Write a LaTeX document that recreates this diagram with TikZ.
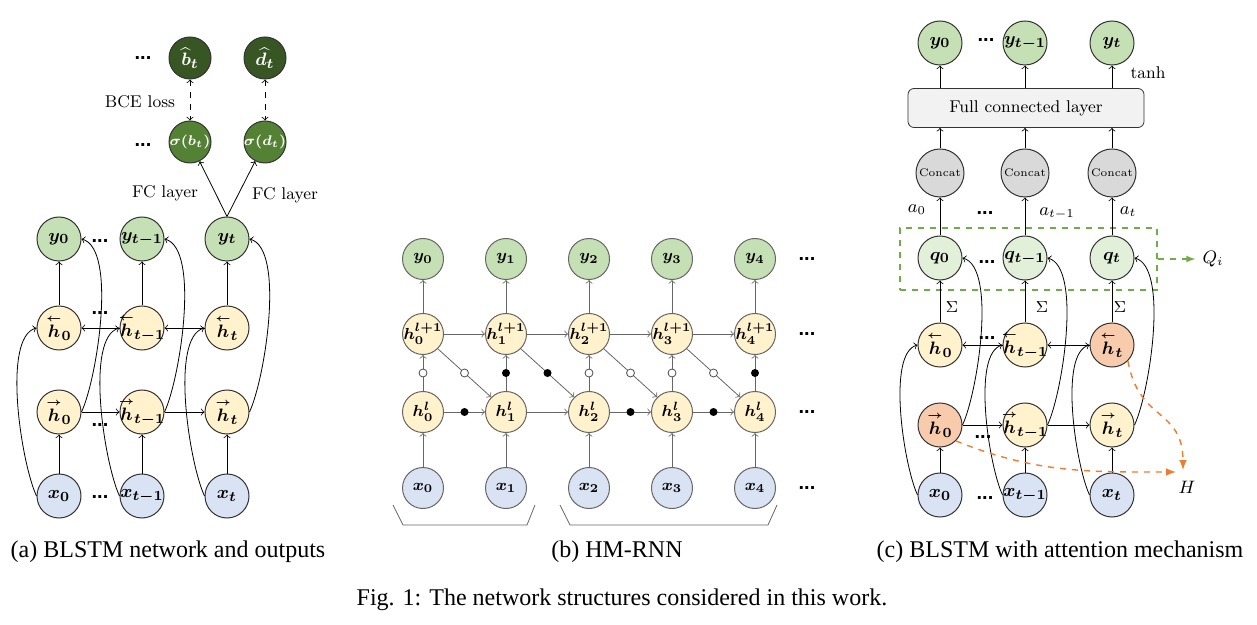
\documentclass[tikz,border=0pt]{standalone}
\usepackage{amsmath, amssymb}
\usepackage{fontspec}
\newfontfamily\capfont{Liberation Serif}
\newfontfamily\dotfont{Liberation Sans}
\usepackage{tikz}
\usetikzlibrary{positioning}
\usetikzlibrary{arrows}
\usetikzlibrary{calc}

\newcommand{\hfw}{\overset{\scriptscriptstyle\rightarrow}{h}}
\newcommand{\hbw}{\overset{\scriptscriptstyle\leftarrow}{h}}

\definecolor{inblue}{HTML}{DAE3F3}
\definecolor{hidyel}{HTML}{FFF2CC}
\definecolor{outgrn}{HTML}{C5E0B4}
\definecolor{qgrn}{HTML}{E2F0D9}
\definecolor{hotred}{HTML}{F8CBAD}
\definecolor{siggrn}{HTML}{548235}
\definecolor{hatgrn}{HTML}{375623}
\definecolor{catgray}{HTML}{D9D9D9}
\definecolor{fcgray}{HTML}{F2F2F2}
\definecolor{boxgrn}{HTML}{70AD47}
\definecolor{attorg}{HTML}{ED7D31}

\tikzset{
  unit/.style={circle, draw=black!80, line width=0.5pt, minimum size=22pt, inner sep=-2pt,
    font=\boldmath\fontsize{9.5}{11}\selectfont},
  inp/.style={unit, fill=inblue},
  hid/.style={unit, fill=hidyel},
  hot/.style={unit, fill=hotred},
  outp/.style={unit, fill=outgrn},
  qunit/.style={unit, fill=qgrn},
  sigunit/.style={unit, fill=siggrn, text=white, minimum size=21pt, font=\boldmath\fontsize{7}{8}\selectfont},
  hatunit/.style={unit, fill=hatgrn, text=white, minimum size=21pt},
  hmunit/.style={unit, minimum size=20.5pt, draw=black!60, font=\boldmath\fontsize{8.5}{10}\selectfont},
  catunit/.style={unit, fill=catgray, minimum size=24pt, font=\fontsize{5.5}{7}\selectfont},
  lbl/.style={font=\fontsize{8.5}{10}\selectfont},
  mlbl/.style={font=\fontsize{9}{11}\selectfont},
  dots/.style={font=\dotfont\bfseries\fontsize{10}{12}\selectfont, inner sep=1pt},
  omark/.style={circle, draw=black!70, fill=white, minimum size=4pt, inner sep=0pt},
  fmark/.style={circle, fill=black, minimum size=4pt, inner sep=0pt},
  captext/.style={font=\capfont\fontsize{12}{14}\selectfont},
  attn/.style={draw=attorg, dashed, line width=0.7pt, -latex},
  upcurve/.style={out=115, in=195, looseness=0.55},
  skipcurve/.style={out=65, in=-15, looseness=0.55},
}

\begin{document}
\begin{tikzpicture}[x=0.5pt, y=-0.5pt, ->, >=to]
\useasboundingbox (0,0) rectangle (1257,625);

% (a) BLSTM network and outputs
\node[inp] (xa0) at (59,496) {$x_0$};
\node[inp] (xa1) at (142,496) {$x_{t-1}$};
\node[inp] (xa2) at (227,496) {$x_t$};
\node[hid] (hfa0) at (59,412) {$\hfw_0$};
\node[hid] (hfa1) at (142,412) {$\hfw_{t-1}$};
\node[hid] (hfa2) at (227,412) {$\hfw_t$};
\node[hid] (hba0) at (59,328) {$\hbw_0$};
\node[hid] (hba1) at (142,328) {$\hbw_{t-1}$};
\node[hid] (hba2) at (227,328) {$\hbw_t$};
\node[outp] (ya0) at (59,239) {$y_0$};
\node[outp] (ya1) at (142,239) {$y_{t-1}$};
\node[outp] (ya2) at (227,239) {$y_t$};
\node[sigunit] (sb) at (190,142) {$\sigma(b_t)$};
\node[sigunit] (sd) at (265,142) {$\sigma(d_t)$};
\node[hatunit] (bh) at (190,58) {$\widehat{b}_t$};
\node[hatunit] (dh) at (265,58) {$\widehat{d}_t$};

\node[dots] at (100,241) {...};
\node[dots] at (100,313) {...};
\node[dots] at (100,425) {...};
\node[dots] at (100,497) {...};
\node[dots] at (143,58) {...};
\node[dots] at (143,145) {...};
\node[lbl] at (140,102) {BCE loss};
\node[lbl] at (165,193) {FC layer};
\node[lbl] at (285,195) {FC layer};

\draw (xa0) -- (hfa0);
\draw (xa1) -- (hfa1);
\draw (xa2) -- (hfa2);
\draw (hfa0) -- (hfa1);
\draw (hfa1) -- (hfa2);
\draw (hba1) -- (hba0);
\draw (hba2) -- (hba1);
\draw (hba0) -- (ya0);
\draw (hba1) -- (ya1);
\draw (hba2) -- (ya2);
\draw (xa0.west) to[upcurve] (hba0.west);
\draw (xa1.west) to[upcurve] (hba1.west);
\draw (xa2.west) to[upcurve] (hba2.west);
\draw (hfa0.east) to[skipcurve] (ya0.east);
\draw (hfa1.east) to[skipcurve] (ya1.east);
\draw (hfa2.east) to[skipcurve] (ya2.east);
\draw (ya2.north) -- (sb);
\draw (ya2.north) -- (sd);
\draw[<->, dashed] (bh) -- (sb);
\draw[<->, dashed] (dh) -- (sd);

% (b) HM-RNN
\begin{scope}[draw=black!60]
\node[hmunit, fill=inblue] (xb0) at (423,488) {$x_0$};
\node[hmunit, fill=inblue] (xb1) at (506,488) {$x_1$};
\node[hmunit, fill=inblue] (xb2) at (589,488) {$x_2$};
\node[hmunit, fill=inblue] (xb3) at (672,488) {$x_3$};
\node[hmunit, fill=inblue] (xb4) at (755,488) {$x_4$};
\node[hmunit, fill=hidyel] (hl0) at (423,412) {$h_0^l$};
\node[hmunit, fill=hidyel] (hl1) at (506,412) {$h_1^l$};
\node[hmunit, fill=hidyel] (hl2) at (589,412) {$h_2^l$};
\node[hmunit, fill=hidyel] (hl3) at (672,412) {$h_3^l$};
\node[hmunit, fill=hidyel] (hl4) at (755,412) {$h_4^l$};
\node[hmunit, fill=hidyel] (hu0) at (423,334) {$h_0^{l+1}$};
\node[hmunit, fill=hidyel] (hu1) at (506,334) {$h_1^{l+1}$};
\node[hmunit, fill=hidyel] (hu2) at (589,334) {$h_2^{l+1}$};
\node[hmunit, fill=hidyel] (hu3) at (672,334) {$h_3^{l+1}$};
\node[hmunit, fill=hidyel] (hu4) at (755,334) {$h_4^{l+1}$};
\node[hmunit, fill=outgrn] (yb0) at (423,259) {$y_0$};
\node[hmunit, fill=outgrn] (yb1) at (506,259) {$y_1$};
\node[hmunit, fill=outgrn] (yb2) at (589,259) {$y_2$};
\node[hmunit, fill=outgrn] (yb3) at (672,259) {$y_3$};
\node[hmunit, fill=outgrn] (yb4) at (755,259) {$y_4$};

\node[dots] at (807,259) {...};
\node[dots] at (807,334) {...};
\node[dots] at (807,412) {...};
\node[dots] at (807,488) {...};

\draw (xb0) -- (hl0);
\draw (xb1) -- (hl1);
\draw (xb2) -- (hl2);
\draw (xb3) -- (hl3);
\draw (xb4) -- (hl4);
\draw (hl0) -- (hu0);
\draw (hl1) -- (hu1);
\draw (hl2) -- (hu2);
\draw (hl3) -- (hu3);
\draw (hl4) -- (hu4);
\draw (hu0) -- (yb0);
\draw (hu1) -- (yb1);
\draw (hu2) -- (yb2);
\draw (hu3) -- (yb3);
\draw (hu4) -- (yb4);
\draw (hu0) -- (hu1);
\draw (hu1) -- (hu2);
\draw (hu2) -- (hu3);
\draw (hu3) -- (hu4);
\draw (hl0) -- (hl1);
\draw (hl1) -- (hl2);
\draw (hl2) -- (hl3);
\draw (hl3) -- (hl4);
\draw (hu0.south east) -- (hl1.north west);
\draw (hu1.south east) -- (hl2.north west);
\draw (hu2.south east) -- (hl3.north west);
\draw (hu3.south east) -- (hl4.north west);

\node[omark] at ($(hl0)!0.5!(hu0)$) {};
\node[fmark] at ($(hl1)!0.5!(hu1)$) {};
\node[omark] at ($(hl2)!0.5!(hu2)$) {};
\node[omark] at ($(hl3)!0.5!(hu3)$) {};
\node[fmark] at ($(hl4)!0.5!(hu4)$) {};
\node[fmark] at ($(hl0)!0.5!(hl1)$) {};
\node[fmark] at ($(hl2)!0.5!(hl3)$) {};
\node[fmark] at ($(hl3)!0.5!(hl4)$) {};
\node[omark] at ($(hu0.south east)!0.5!(hl1.north west)$) {};
\node[fmark] at ($(hu1.south east)!0.5!(hl2.north west)$) {};
\node[omark] at ($(hu2.south east)!0.5!(hl3.north west)$) {};
\node[omark] at ($(hu3.south east)!0.5!(hl4.north west)$) {};

\draw[-] (393,505) -- (403,525) -- (527,525) -- (535,505);
\draw[-] (560,505) -- (570,525) -- (768,525) -- (777,505);
\end{scope}

% (c) BLSTM with attention mechanism
\node[inp] (xc0) at (940,495) {$x_0$};
\node[inp] (xc1) at (1025,495) {$x_{t-1}$};
\node[inp] (xc2) at (1112,495) {$x_t$};
\node[hot] (hfc0) at (940,425) {$\hfw_0$};
\node[hid] (hfc1) at (1025,425) {$\hfw_{t-1}$};
\node[hid] (hfc2) at (1112,425) {$\hfw_t$};
\node[hid] (hbc0) at (940,345) {$\hbw_0$};
\node[hid] (hbc1) at (1025,345) {$\hbw_{t-1}$};
\node[hot] (hbc2) at (1112,345) {$\hbw_t$};
\node[qunit] (q0) at (940,258) {$q_0$};
\node[qunit] (q1) at (1025,258) {$q_{t-1}$};
\node[qunit] (q2) at (1112,258) {$q_t$};
\node[catunit] (cc0) at (940,173) {Concat};
\node[catunit] (cc1) at (1025,173) {Concat};
\node[catunit] (cc2) at (1112,173) {Concat};
\node[draw=black!80, fill=fcgray, rounded corners=3pt, minimum width=118pt, minimum height=19.5pt,
  lbl] (fc) at (1026,108) {Full connected layer};
\node[outp] (yc0) at (940,43) {$y_0$};
\node[outp] (yc1) at (1025,43) {$y_{t-1}$};
\node[outp] (yc2) at (1112,43) {$y_t$};
\node[draw=boxgrn, dashed, line width=0.6pt, minimum width=128.5pt, minimum height=31pt] (qbox) at (1028.5,259) {};
\node[mlbl] (Qi) at (1213,259) {$Q_i$};
\node[mlbl] (H) at (1187,487) {$H$};
\coordinate (Hin1) at (1183,470);
\coordinate (Hin2) at (1176,472);

\node[dots] at (986,40) {...};
\node[dots] at (985,213) {...};
\node[dots] at (987,262) {...};
\node[dots] at (987,338) {...};
\node[dots] at (983,437) {...};
\node[dots] at (985,498) {...};
\node[lbl] at (1148,73) {tanh};
\node[mlbl] at (917,210) {$a_0$};
\node[mlbl] at (1057,213) {$a_{t-1}$};
\node[mlbl] at (1128,212) {$a_t$};
\node[lbl] at (952,307) {$\Sigma$};
\node[lbl] at (1042,307) {$\Sigma$};
\node[lbl] at (1120,307) {$\Sigma$};

\draw (xc0) -- (hfc0);
\draw (xc1) -- (hfc1);
\draw (xc2) -- (hfc2);
\draw (hfc0) -- (hfc1);
\draw (hfc1) -- (hfc2);
\draw (hbc1) -- (hbc0);
\draw (hbc2) -- (hbc1);
\draw (hbc0) -- (q0);
\draw (hbc1) -- (q1);
\draw (hbc2) -- (q2);
\draw (xc0.west) to[upcurve] (hbc0.west);
\draw (xc1.west) to[upcurve] (hbc1.west);
\draw (xc2.west) to[upcurve] (hbc2.west);
\draw (hfc0.east) to[skipcurve] (q0.east);
\draw (hfc1.east) to[skipcurve] (q1.east);
\draw (hfc2.east) to[skipcurve] (q2.east);
\draw (q0) -- (cc0);
\draw (q1) -- (cc1);
\draw (q2) -- (cc2);
\draw (cc0) -- (cc0 |- fc.south);
\draw (cc1) -- (cc1 |- fc.south);
\draw (cc2) -- (cc2 |- fc.south);
\draw (yc0 |- fc.north) -- (yc0);
\draw (yc1 |- fc.north) -- (yc1);
\draw (yc2 |- fc.north) -- (yc2);
\draw[draw=boxgrn, dashed, line width=0.6pt, -latex] (qbox.east) -- (Qi.west);
\draw[attn] (hbc2.south east) to[out=-80,in=90,looseness=1.3] (Hin1);
\draw[attn] (hfc0.south east) to[out=-22,in=180] (Hin2);

% captions
\node[captext] at (168,552) {(a) BLSTM network and outputs};
\node[captext] at (617,552) {(b) HM-RNN};
\node[captext] at (1060,552) {(c) BLSTM with attention mechanism};
\node[captext] at (622,600) {Fig. 1: The network structures considered in this work.};
\end{tikzpicture}
\end{document}
